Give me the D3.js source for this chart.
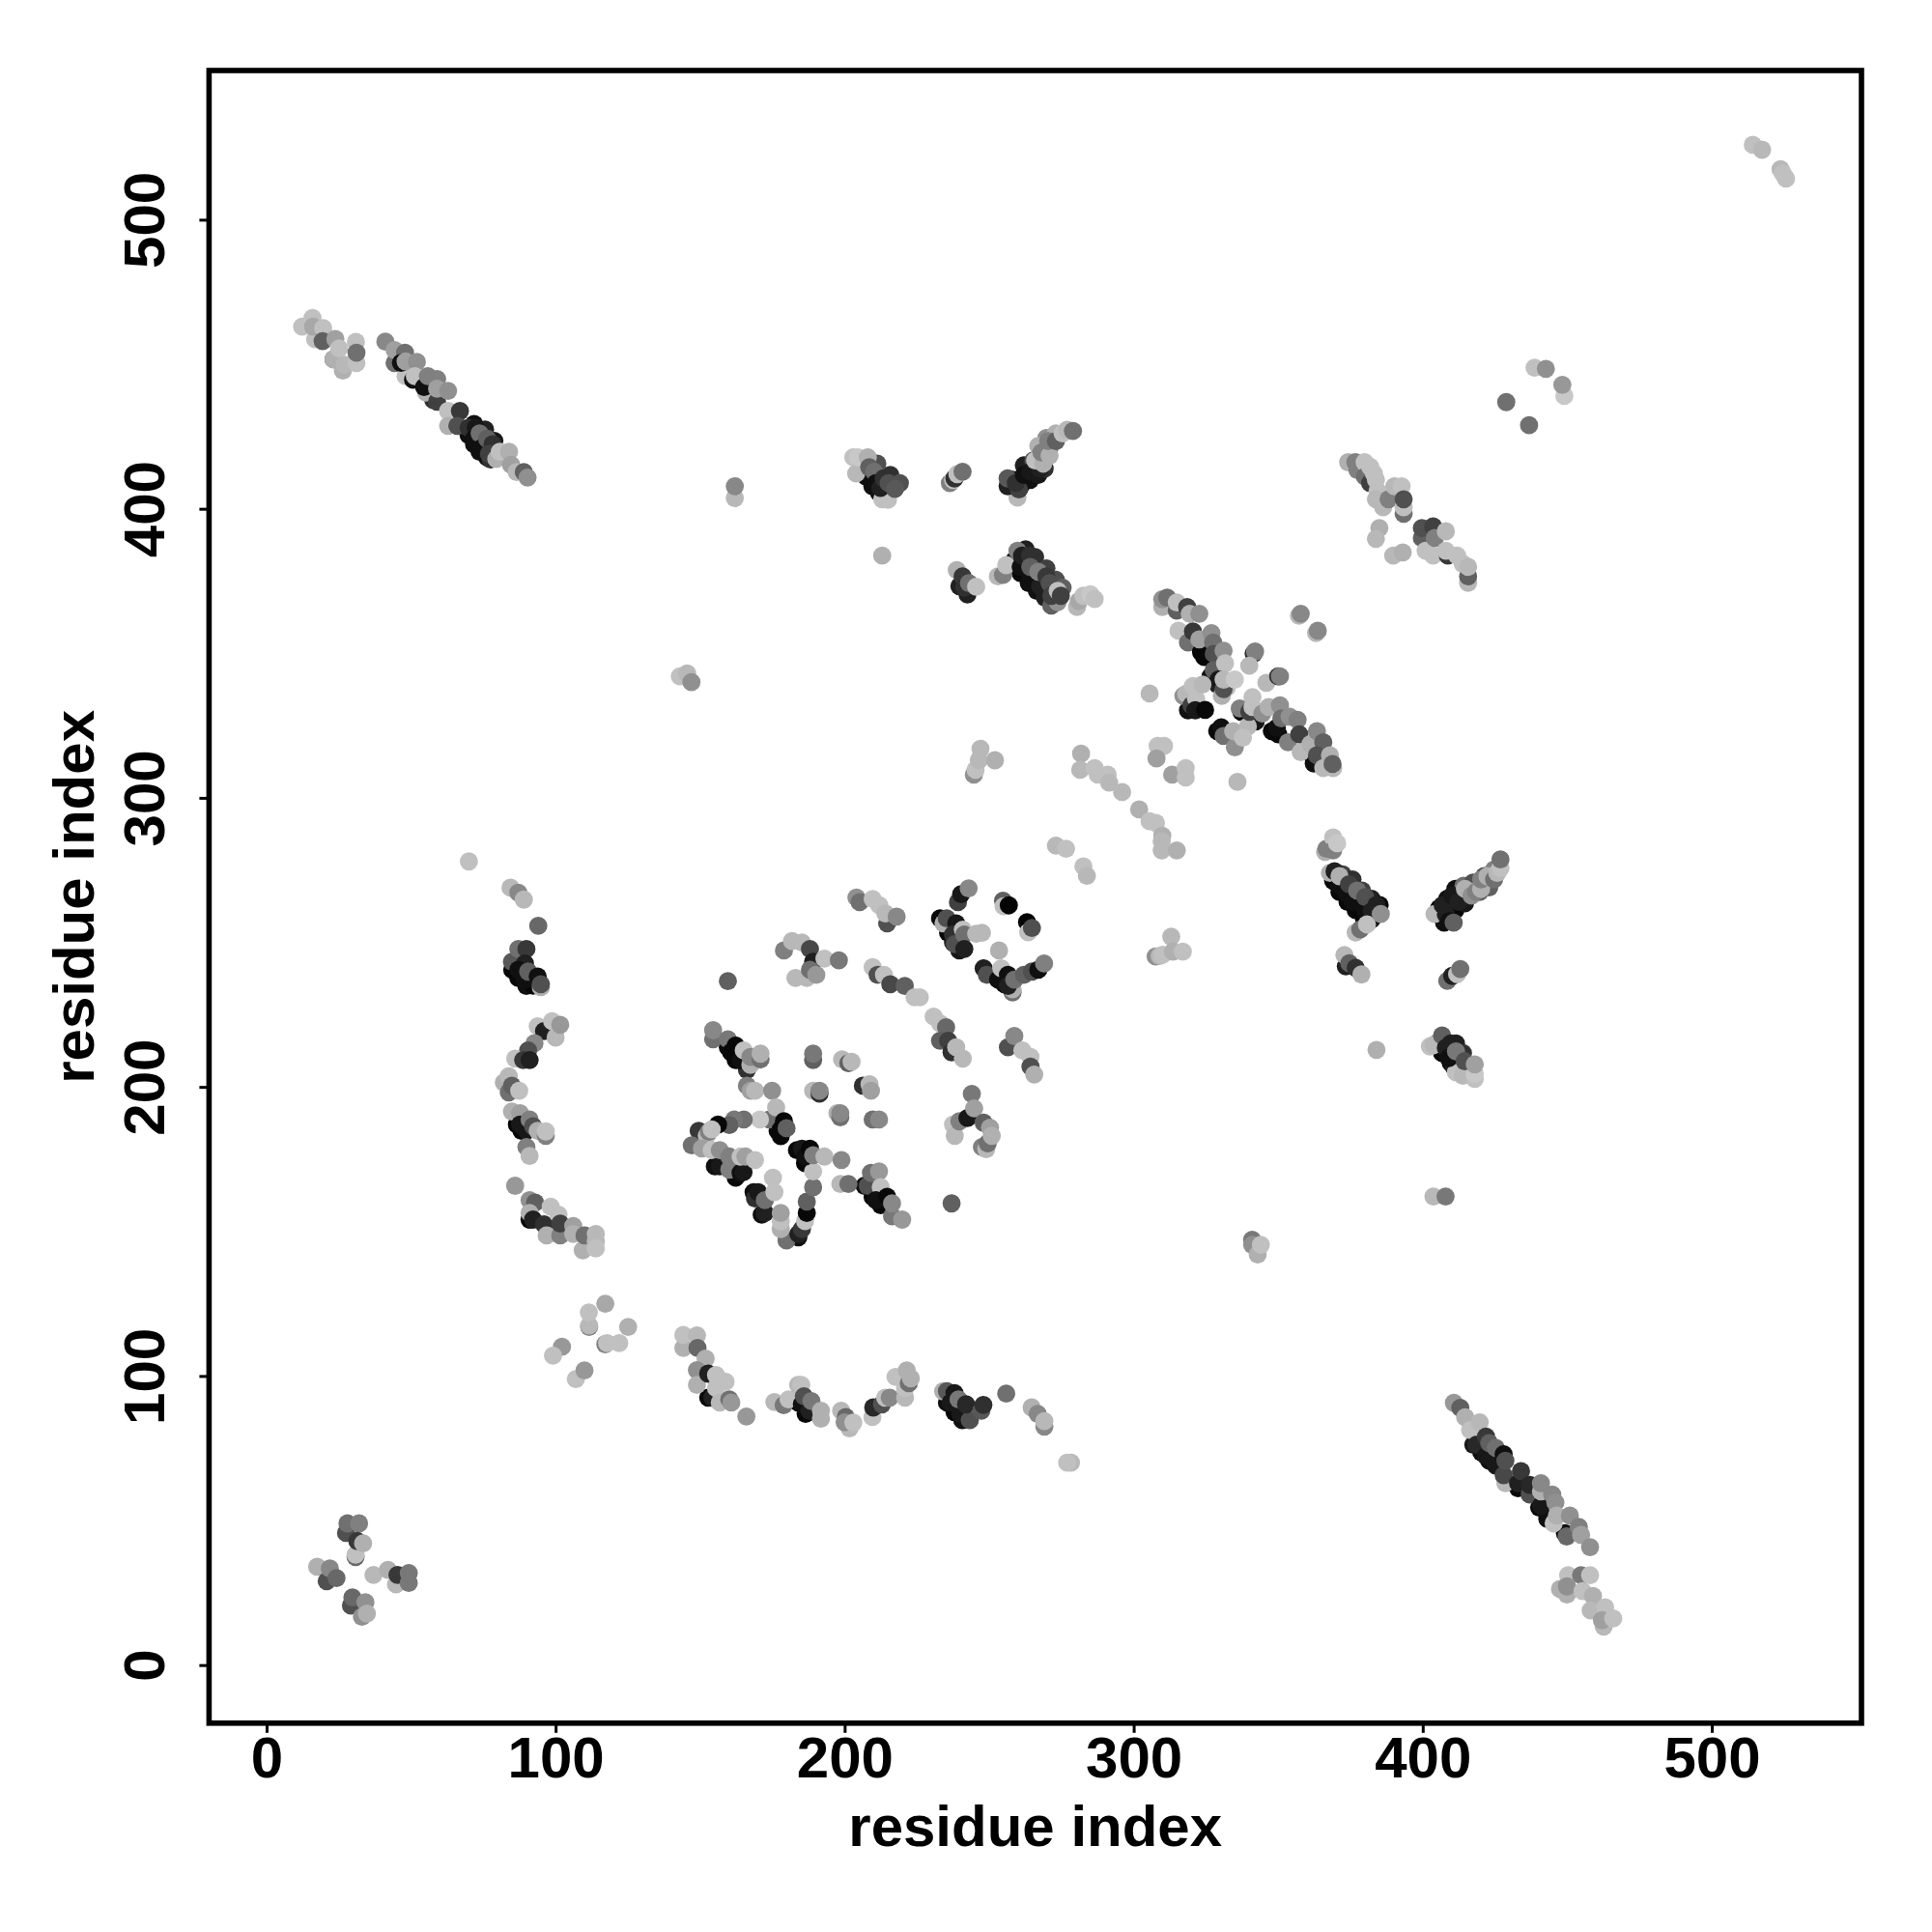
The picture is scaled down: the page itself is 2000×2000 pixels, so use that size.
<!DOCTYPE html>
<html><head><meta charset="utf-8">
<script src="https://cdnjs.cloudflare.com/ajax/libs/d3/7.8.5/d3.min.js"></script>
<style>html,body{margin:0;background:#fff}svg{display:block}text{font-family:"Liberation Sans",Arial,sans-serif;font-weight:700;fill:#000}</style>
</head><body><div id="c"></div>
<script>
const tickValues=[0,100,200,300,400,500];
const xTitle="residue index", yTitle="residue index";
// each contact: [residue x, residue y, grey level]
const denseBands=[[69.9,425.5,0x10],[71.8,422.3,0x10],[73.7,419.7,0x10],[76.3,417.8,0x10],[77.5,417.1,0x30],[71.8,429.3,0x10],[75.6,427.4,0x20],[78.8,423.5,0x18],[54.5,443.4,0x10],[57.7,437.6,0x30],
[258.1,410,0x10],[260.9,407.8,0x20],[264.2,410,0x10],[267,411.7,0x18],[269.2,413.9,0x30],[262,415,0x20],[265.3,416.7,0x50],[269.8,424.5,0x90],[267,421.7,0xb0],[273.1,426.1,0xb0],[270.9,421.1,0x70],[267.6,418.4,0x60],
[258.7,382.1,0x10],[260.9,377.7,0x08],[263.7,374.3,0x10],[266.5,371.6,0x10],[269.3,369.3,0x20],[271.5,366.5,0x60],[262.6,386,0x20],[265.9,383.3,0x30],[269.8,379.4,0x40],[273.1,375.4,0x50],[275.4,372.7,0x60],
[207.4,417.2,0xb0],[207.4,411.1,0x10],[209.6,407.8,0x10],[211.9,405.5,0x10],[213.5,405.5,0x30],[215.8,411.7,0x30],[211.3,415.6,0x50],[219.1,408.9,0x50],[239.7,373.2,0x20],[242.5,370.4,0x20],
[324.4,348.7,0x08],[326,353.2,0x10],[326.6,342,0x10],[329,339.2,0x20],[330.5,335.3,0xb0],[332.2,338.1,0xc0],[318.8,330.3,0x10],[342.2,326.4,0x18],[347.8,323.1,0x08],[350,322,0x08],[361.2,315.3,0x10],[362.3,311.9,0x10],[328.9,323.1,0x08],[337.2,329.8,0x08],
[369,271.3,0x08],[371.2,267.4,0x08],[374,264,0x08],[376.8,261.2,0x08],[379.6,258.5,0x08],[382.3,257.9,0x10],[372.3,273.5,0x40],[375.7,271.8,0x30],[379,267.9,0x40],[382.3,265.1,0x20],[385.1,262.9,0x08],
[405.7,261.8,0x08],[407.4,256.8,0x10],[408.5,265.1,0x10],[411.3,261.2,0x08],[411.3,268.5,0x10],[414.6,263.5,0x18],[414.1,269.6,0x70],[417.4,270.7,0x50],[419.7,267.4,0x60],[423,269,0x60],[424.7,275.2,0x80],[421.3,272.9,0x50],[417.4,267.4,0xb8],
[404.9,215,0x08],[406.7,211.7,0x08],[409.7,208.3,0x10],[411.5,215,0x20],[413.9,211.7,0x30],[410.9,206.7,0x20],
[417.5,76.2,0x18],[420.3,73.5,0x10],[423,70.7,0x10],[425.3,69,0x18],[433,61.2,0x08],[440.3,54.5,0x08],[443.1,50.6,0x10],[449.2,45.6,0x10],
[85,240.5,0x08],[87.1,237.7,0x08],[89.9,234.9,0x10],[92.2,235,0x08],[86.6,187,0x08],[88.2,184.8,0x08],[91,154.1,0x08],
[159.6,213.7,0x08],[162.3,209.3,0x08],[166.2,205.9,0x30],[155.1,172.5,0x10],[162.3,168.6,0x08],[168.5,163.6,0x10],[169,161.4,0x30],[171.3,155.8,0x10],[183.5,178.1,0x08],[186.3,173.6,0x08],[176.8,184.8,0x08],[177.9,183,0x08],[206.9,165.8,0x10],[209.7,161.9,0x08],[212.5,159.1,0x08],[184,148,0x10],
[233,258.3,0x08],[235.8,253.3,0x08],[237.5,250,0x20],[239.7,247.2,0x18],[253.1,237.7,0x08],[255.3,235.5,0x08],[258.1,232.7,0x70],
[152.8,92.5,0x08],[183.9,90.8,0x08],[186.5,86.9,0x08],[235.4,90.8,0x10],[238,87.5,0x08],[240.7,84.7,0x10]];
const cornerTL=[[12.3,463,0xc0],[15.9,466,0xc0],[16.8,458.7,0xc0],[16.1,463,0xa8],[19.6,462.5,0xc0],[19.4,458,0x60],[23.8,458.7,0xa0],[23.2,451.7,0x40],[23.2,451.7,0xb0],[25.1,455.5,0xc0],[26.4,447.8,0xb0],[27,449.8,0xb8],[30.9,457.7,0xc0],[31.1,450.4,0xc0],[31.1,454,0x70]];
const diagTL=[[41.1,457.8,0x88],[44.3,450.4,0x70],[44.3,454.9,0xa0],[47.9,454,0x70],[48.1,445.9,0xc0],[46.5,450.5,0x10],[48.1,451,0xa0],[52,450.8,0x90],[50.7,444.6,0x10],[51.3,445.9,0xc0],[55.2,440.2,0xb0],[54.5,442.1,0x10],[55.8,445.9,0x80],[59,444.9,0x80],[59,437,0x40],[59,441.5,0xa0],[62.8,440.8,0x90],[62.8,433.8,0xc0],[66.9,433.8,0x38],[62.8,428.7,0xb0],[66,428.7,0x50],[69.9,428,0x30],[72.4,428,0x18],[71.8,424.2,0x10],[73.7,426.1,0x70],[74.3,421,0x10],[76.3,424.2,0x60],[78.2,422.3,0x30],[76.9,419,0x40],[79.5,417.2,0xb0],[80.7,419.7,0xc0],[83.9,419.7,0xb0],[84.6,415.2,0xa0],[86.5,412.7,0xb8],[89,412.7,0x60],[90.3,410.8,0x90]];
const isolated=[[162,403.7,0xb8],[162,407.8,0x88],[213,383.8,0xb0],[438.7,448.8,0xc0],[442.6,448.4,0x90],[449,439,0xc8],[448.3,442.9,0x98],[428.9,436.9,0x70],[436.8,428.9,0x70],[514.2,525.9,0xc0],[517.4,524.2,0xb8],[523.8,517.5,0xb8],[525.7,514.2,0xc0],[524.6,516,0xc0],[143,342,0xc0],[145.5,343,0xb8],[147,340,0x90],[70,278,0xc0],[94,255.7,0x68],[159.6,236.6,0x60],[86,165.8,0x98],[237,159.7,0x60],[384,212.8,0xb0],[403.7,162.1,0xb8],[407.9,162.1,0x78],[341,147.1,0x78],[341,145.4,0x90],[342.9,142,0xb0],[344,145.4,0xc0],[278.3,70,0xb8],[277,70,0xc0]];
const upperC=[[203,417.8,0xc0],[204,412.2,0xb8],[204.6,417.8,0xc8],[208,417.8,0xb0],[213,403.3,0xc0],[215,403.1,0xc0],[208.5,414.4,0x60],[210.2,412.8,0x70],[210.8,408.9,0x10],[212.4,407.2,0x20],[213.5,410.5,0x30],[215.2,408.9,0x50],[217.4,406.9,0x58],[236.4,408.9,0x80],[237.5,410,0xc0],[238,410.5,0x30],[239,412,0xc0],[240.8,412.8,0x70]];
const upperE=[[259.8,403.9,0xb8],[256.4,407.8,0x20],[256.4,410.5,0x58],[260.3,406.7,0x40],[259.2,408.9,0x30],[262,411.7,0x10],[264.2,412.8,0x18],[267.6,413.9,0x20],[265.9,416.7,0xc0],[268.7,415.6,0xb0],[268.1,419.5,0x80],[270.9,418.4,0xb0],[270.4,423.4,0x80],[273.1,423.4,0x60],[275.4,426.1,0xc0],[277,427.3,0xb8],[279,426.9,0x70]];
const upperF=[[238.8,378.8,0xb0],[240.8,376.6,0x38],[241.4,372.7,0x30],[243,374.3,0x70],[245.5,373,0xc0],[253,376.6,0xb8],[254.8,377.1,0x80],[255.9,380.5,0xc0]];
const upperG=[[259.8,385.5,0x80],[260.9,379.9,0x10],[261.4,383.8,0x20],[264.2,376.6,0x10],[264.2,383.8,0x30],[264.2,379.9,0x60],[267.6,373.2,0x20],[267,378.2,0x80],[269.8,376.6,0x38],[273.7,367.7,0x90],[270.9,374.3,0x50],[271.5,369.9,0x40],[273.7,371.6,0xc0],[274.8,369.9,0x40],[280.4,366,0xb8],[281,368,0xa8],[282.6,369.9,0xc0],[285,370.4,0xc8],[286.5,368.8,0xc0]];
const crossX=[[309.9,366,0xb0],[309.9,368.7,0x90],[311.6,369.3,0x70],[314.9,364.8,0x60],[314.9,367.6,0xc0],[318.5,366,0x40],[319.4,363.7,0xb0],[322.7,363.7,0x90],[315.5,357.8,0xc0],[318.8,353.7,0x70],[320.5,357.6,0x38],[323.3,350.4,0x08],[322.7,354.8,0xa0],[326.9,357,0x90],[327.5,353.7,0x70],[327.7,349.8,0x50],[327.7,344.2,0x60],[331.1,350.9,0x90],[331.6,346.5,0xc0],[329.4,340.9,0x18],[331.1,337.6,0x50],[331.1,340.9,0xb8],[335,340.9,0xc8],[341.5,349.9,0x30],[342,350.6,0x80],[340,345.7,0xb8],[345.9,339.8,0xb8],[350,342,0x30],[350.6,342,0x80],[357.2,363,0xb8],[357.8,363.7,0x88],[363.1,357,0xb8],[363.7,357.8,0x88],[305.5,336.1,0xb8],[317.2,335.3,0x90],[318.2,336,0xb8],[320,332,0x40],[320.5,338.7,0xc0],[321.6,334.2,0xc0],[323.8,339.2,0xb8],[321.3,330.3,0x18],[324.7,330.4,0x08],[330.3,324.4,0x10],[331.1,321.4,0x70],[335,317.5,0x90],[334.4,323.1,0xb0],[339.5,324.7,0xb8],[337.8,320.8,0xc0],[336.7,330.9,0x80],[340,329.8,0x40],[341.1,334.8,0xc0],[341.1,331.4,0xc0],[344.5,329.2,0x90],[346.7,331.4,0xb0],[349.5,324.2,0x10],[350.6,332,0x90],[351.1,327.5,0x70],[353.9,328.1,0x90],[353.4,319.2,0x80],[356.7,327,0x80],[357.8,315.8,0xb8],[357.3,322,0x40],[361.2,318.6,0xb0],[363.4,323.1,0x88],[365.6,319.2,0x60],[363.4,314.7,0x50],[365.6,310.3,0xb8],[369,310.3,0xb8],[367.9,314.7,0xb0],[368.8,311.7,0x60]];
const lightArc=[[308.3,318,0xc0],[310.5,318,0xc0],[307.9,313.6,0xa0],[313.3,308,0xa0],[318,310.3,0xc0],[318,307,0xc0],[335.9,305.5,0xb8],[281.8,315.3,0xb0],[281.5,309.7,0xb8],[286.5,310.3,0xc0],[287.6,308,0xc0],[291,308,0xc0],[291.5,305.3,0xb8],[296,302,0xb8],[301.9,296,0xb0],[305.5,291.9,0xc0],[307.7,291.3,0xc0],[309.9,286.9,0xb0],[309.7,285,0xb8],[309.7,281.8,0xb8],[314.9,281.8,0xb0],[244.7,308,0x90],[245.3,309.7,0xc0],[246.4,313,0xb8],[247,317,0xb8],[252,313,0xb0],[273.1,283.5,0xb8],[276.6,282.4,0xc0],[282.6,276.3,0xc0],[283.8,273,0xb8],[307.6,245.1,0x90],[309,245.3,0xb8],[310,245.7,0xc0],[313,252,0xb8],[313.6,246.8,0xb0],[317,246.8,0xc0]];
const rightJ=[[366.2,281.3,0xb0],[366.7,282.4,0x80],[369,286.3,0xc0],[369,281.8,0x80],[370.4,284.3,0xc8],[367.9,274,0xb0],[369.5,274.6,0x20],[371.2,269.6,0x10],[371.2,272.9,0xb0],[373.4,267.3,0x10],[374.5,270.1,0x40],[375.7,264,0x10],[377.3,267.9,0x70],[380.1,261.2,0x10],[380.1,265.7,0x50],[382.3,260.7,0x20],[384,262.9,0x20],[376.8,253.4,0xb8],[378.4,254.5,0x70],[380.7,256.2,0xc0],[385.5,259.8,0x90],[373.4,241.7,0x20],[372.9,245.6,0xb8],[374.6,242.8,0x60],[376.8,241.2,0x30],[378.8,238.9,0xb0],[408.5,236.7,0x70],[410.2,238.4,0x20],[411.9,239,0xc0],[413,240.8,0x70]];
const rightM=[[404.1,259.8,0xb8],[406.9,262.9,0x20],[408,259.6,0x20],[409.1,257.3,0x10],[410.2,266.2,0x18],[412.4,264,0x20],[410.7,256.8,0x60],[414.6,268.5,0xb0],[416.9,266.2,0x90],[418.5,267.5,0x80],[420.2,268.5,0xb0],[420.2,271.8,0x80],[422.4,272.9,0xb0],[424.7,271.8,0x70],[425.8,274,0xb8],[426.9,275.7,0xc0],[426.9,278.7,0x70],[402.5,214,0xc0],[403.7,214.5,0xb8],[411.5,205,0xc0],[413.9,203.9,0xb8],[418,202.8,0xc0],[418,204.5,0xc8],[406.7,217.8,0x60],[409.7,215,0x20],[408,213.5,0x20],[409,210,0x10],[411.5,212.3,0x78],[414.5,208.9,0x50],[418,207.8,0xa0]];
const topN=[[374.2,416.1,0xb0],[376.7,416.1,0x80],[377.4,413.4,0x80],[379.9,416.1,0xc0],[380,411.1,0x70],[381.8,414.5,0xc0],[381.8,408.9,0x40],[383.1,412.2,0xc0],[383.8,410,0xc0],[384.4,406.1,0xc0],[383.8,403.3,0xb8],[386.3,400.5,0xb8],[388.2,403.3,0x80],[390.2,407.8,0xb8],[392.7,407.8,0xc0],[393.4,398.3,0x70],[393.4,400.5,0xc0],[393.4,403.3,0x50],[385,393.3,0xb0],[383.8,389.6,0xb8],[389.8,383.8,0xb8],[393.1,384.9,0xb0],[399.7,389.9,0x60],[399.7,393.3,0x50],[401,385.5,0xc0],[403.6,383.8,0xc0],[403.6,393.9,0x40],[404.2,389.9,0x80],[408,392.2,0xb8],[408.7,383.8,0x38],[408,385.5,0xc0],[411.9,383.8,0xc0],[415.7,374.4,0xb8],[415.7,376.6,0x60],[413.8,381,0xc0],[415.7,379.9,0xb8]];
const leftArc=[[84.4,268.9,0xb8],[87.1,267.2,0x88],[89,264.8,0xb8],[84.9,243.3,0x58],[87.1,247.7,0x70],[89.9,247.7,0x38],[89.4,242.7,0x20],[87.1,240.5,0x10],[89.4,237.1,0x10],[90.5,239.9,0x60],[93.8,238.2,0x10],[94.9,234.5,0xb0],[94.9,235.5,0x50],[93.8,221,0xc0],[96,219.3,0x20],[98.8,222.7,0xc0],[100,217.1,0xb8],[101.6,221.5,0x98],[92.7,215.1,0x88],[90.5,212.6,0x50],[86,209.8,0xc0],[88.8,209.3,0x38],[91,209.3,0x20],[82.1,201.5,0xb0],[83.8,203.7,0xb8],[83.8,198.1,0x70],[84.9,200.4,0x60],[87.4,198.7,0xc0],[84.9,191.5,0xb0],[87.7,190.9,0xa0],[87.7,187,0x18],[90,184.8,0x18],[91,188.7,0x80],[92.2,186.4,0x50],[93.8,184.8,0xb0],[96.6,183.1,0x80],[96.6,184.6,0xc0],[89.9,179.2,0x80],[91,176.1,0xb8],[91,160.8,0x90],[92.9,160,0x60],[91,156.4,0xb0],[92.2,154.1,0x20],[96,152.5,0x30],[96.9,148.6,0xb0],[98.3,158.6,0xc0],[101,155.8,0xc0],[101.6,148.6,0x80],[101.6,152.7,0x40],[106.1,151.9,0xa0],[106.1,149.1,0xb0],[109.4,143.5,0xb0],[110,148.6,0x70],[113.9,146.5,0xb8],[113.9,149.1,0xb8],[113.9,144.1,0xc0]];
const starA=[[154.5,216.5,0x70],[154.5,219.6,0x88],[159.6,216.5,0x78],[160.7,212,0x08],[162.3,214.3,0x08],[164,209.3,0x10],[165.1,212.6,0xc0],[167.4,207.6,0xb0],[167.4,210.4,0x88],[170.9,209.5,0x70],[170.9,211.5,0xb0],[166.2,200.4,0x80],[167.5,198.7,0xa0],[169,198.7,0xb8],[174.9,198.7,0x90],[174,188.7,0x70],[176.3,192.9,0xb8],[177.9,185.3,0x08],[179,188.1,0x08],[179.9,185.7,0x60],[170.7,188.7,0xc8],[165.1,188.7,0x70],[161.8,188.7,0x78],[160.1,186.8,0x60],[156.2,187,0x08],[149.5,184.8,0x38],[152.3,183.1,0xb8],[153,184.5,0x80],[154,185.3,0xc0],[147.1,179.8,0x70],[150.6,178.7,0xa0],[154,178.1,0xc0],[156.8,172.5,0x18],[156.8,178.1,0x90],[160.1,171.4,0x80],[160.1,175.9,0x80],[164,170.3,0x10],[165,170.5,0x18],[164,175.9,0xc0],[165.7,175.9,0xa0],[169,174.7,0xc0]];
const starB=[[170.1,163.6,0x18],[172.4,156.4,0x20],[172.4,160.8,0x70],[175.2,168.6,0xc0],[175.7,163.6,0xc0],[179.9,146.9,0x70],[177.9,150.8,0xb0],[177.9,153.5,0xc0],[177.9,156.4,0xa0],[184,149.1,0x20],[185.2,150.8,0x38],[186.3,153.6,0xc0],[186.9,156.4,0x08],[186.9,160.3,0x60],[189.1,165.3,0x70],[189.1,170.8,0xc0],[185.2,178.6,0x18],[186.3,175.9,0x10],[188,178.6,0x08],[189.1,176.4,0x80],[193,175.9,0xb8],[198.9,174.7,0x88],[198.5,166.4,0xb8],[201.3,166.4,0x70],[208,165.8,0x50],[209.1,170.3,0x70],[211.9,170.8,0x98],[212.5,165.3,0xc0],[210.8,160.8,0x10],[214.7,162,0x08],[216.4,155.2,0x78],[216.4,159.7,0x88],[219.9,154.1,0x98]];
const starSpots=[[189.1,209.3,0x60],[189.1,211.5,0x78],[199.1,209.5,0xb8],[201.3,208.2,0x60],[202.4,208.7,0xb8],[189.1,198.7,0xb8],[191.3,197.7,0x30],[191.3,198.7,0x88],[197.5,190.9,0xb0],[198.5,189.5,0x70],[198.5,190.9,0x88],[206.3,200.4,0x30],[208.6,200.9,0xb8],[209.1,198.7,0xa0],[209.7,188.7,0x70],[211.9,188.7,0x88]];
const midTop=[[179,247.2,0x80],[181.8,250.5,0xb8],[185.2,250,0xb8],[188,247.7,0x48],[183,237.7,0xb8],[186.9,237.7,0xb8],[189.1,243.3,0x20],[188,240.5,0x70],[190.2,238.8,0x98],[193,244.4,0xc0],[198,243.8,0x78],[204.1,265.5,0x90],[205.2,263.9,0x70],[209.7,265,0xc0],[212,262.8,0xc0],[214.7,256.6,0x50],[214.1,260,0xb8],[218,258.9,0x88],[209.7,241.4,0xc0],[211.4,238.8,0x50],[213.6,238.8,0xc0],[215.8,235.5,0x48],[220.8,234.9,0x60],[224.2,231,0xc0],[226,231,0xc0],[230.8,224.3,0xc0],[233,222,0xc0],[235.1,220.6,0x68],[233,216,0x60],[235.8,216,0x40],[237,212,0x30],[238.6,213.7,0xb8],[240.9,209.8,0xb8]];
const ringTop=[[234.2,256.6,0xb0],[235.3,258.3,0x50],[238.6,256.6,0x18],[237.5,252.7,0x30],[238.1,249.4,0x50],[240.9,254.4,0xc0],[241.4,252.7,0x70],[241.4,247.7,0x20],[239.2,263.9,0x40],[240.3,266.7,0x18],[242.9,268.7,0x88],[245.5,253,0xb8],[247.5,253.3,0xb8],[253.4,247.2,0xb0],[254.8,264.4,0x60],[255,262.5,0xc0],[256.8,262.8,0x05],[263.1,257,0x05],[263.5,253.5,0xc0],[264.8,255,0x50],[248.1,241,0x20],[249.2,238.8,0x50],[253.1,237.1,0x10],[254.2,241,0xc0],[256.5,238.8,0x10],[258.1,233.8,0xb0],[256.5,234.9,0x20],[258.7,237.1,0x70],[262,238.8,0x60],[264.8,239.9,0x50],[267,240.5,0x10],[269,242.7,0x80]];
const ringLow=[[256.5,213.7,0x50],[258.7,217.6,0x88],[261.5,212.6,0xc0],[264.3,210.4,0xc0],[264.3,207,0x50],[265.6,204.3,0xb0],[244,197.6,0x78],[237.5,187,0xc0],[238.1,183.1,0xb8],[239.7,188.1,0x80],[242.5,189.2,0x18],[244.8,192.6,0xa0],[247.5,179.2,0x80],[249,178.5,0xb8],[249.5,180.5,0x70],[248.1,187.6,0x60],[250.3,185.9,0xa0],[250.9,183.1,0xb0]];
const lowerLight=[[117.2,125,0xa8],[111.6,117,0x80],[111.6,117.5,0xb8],[111.5,122,0xc0],[125.1,117,0xb0],[102.2,110.1,0x98],[99.1,107,0xc0],[117.2,111,0x80],[117.8,111.4,0xc0],[122,111.4,0xc0],[107,98.9,0xc0],[110,101.9,0x98]];
const lowerWave=[[144.2,109.7,0xb0],[144.2,114.2,0xc0],[148.9,114,0xb8],[149.1,109.7,0x68],[151.9,106,0xb0],[148.9,102,0x90],[148.9,96.9,0xb0],[152.8,100.8,0x20],[154.2,92.5,0x20],[155.5,95.8,0xc0],[156.8,90.8,0xb8],[155.5,100.3,0xc0],[158.8,98,0xc0],[160.1,91.9,0x70],[160.8,90.8,0x98],[166,86,0x98],[175.7,91,0xb8],[178.9,89.9,0x78],[180.6,91.9,0xc0],[183.9,96.9,0xb8],[185,96.9,0xc0],[185.2,90.2,0x10],[185.9,93,0x50],[187.8,88,0x20],[188.5,91.3,0x78],[191.8,85.2,0xb0],[191.8,88,0xb0],[198.8,88,0xb8],[201.7,81.9,0xb8],[200.4,85.8,0x68],[200,84,0x90],[203,83.9,0xc0],[209.6,85.8,0xc0],[209.9,89.1,0x28],[212.9,90.2,0x50],[214,92.5,0xc0],[215.6,92.5,0x88],[220.9,92.5,0xb8],[220.9,95.8,0xc0],[217.6,99.7,0xc0],[222.2,97.5,0x70],[221.5,101.9,0xb0],[222.9,99.2,0xb0],[234.1,94.7,0xb0],[235.4,94.7,0x58],[236.7,90.8,0x18],[238,94.1,0x18],[240,86.9,0x18],[239.4,91.9,0x78],[243.3,84.7,0x50],[242,90.2,0x28],[247.3,88,0x58],[248,90,0x30],[255.9,93.9,0x70],[264.7,89.1,0xb0],[266.8,86.9,0x88],[269.1,82.5,0x88],[269.1,84.4,0xb8]];
const diagBR=[[410.8,90.7,0x98],[413,89,0x60],[414.7,85.7,0xb0],[416.4,81.3,0xc0],[419.7,84,0xb8],[418.6,76.2,0x28],[421.9,72.3,0x18],[421.9,79,0x38],[423,76.8,0x60],[425.3,75.1,0x70],[428.6,62.9,0xb8],[428,65.7,0x48],[428,72.9,0x10],[428.6,70.7,0x50],[433,62.9,0x20],[434,67.1,0x38],[437,59,0x50],[437,62.3,0x28],[440.9,55.1,0x18],[440.9,60.1,0xb0],[440.9,62.9,0x88],[445.3,49,0xc0],[444.8,59,0x88],[445.9,56.2,0x90],[446.4,51.7,0xb0],[449.8,44.5,0x68],[450.9,51.7,0x90],[454,47.8,0x80],[454.8,45,0xa0],[457.9,40.8,0x90]];
const tailBR=[[450.3,31.1,0xc0],[454.8,31.1,0x78],[457.9,31.1,0xc0],[447.5,26.3,0xb0],[449.9,24.4,0xb0],[449.9,27.2,0x90],[455.3,25.6,0xc0],[458.9,23.9,0xb0],[458.1,18.9,0xb8],[463.1,20,0xc0],[462.6,13.3,0xb8],[462,15.5,0xa0],[465.9,16.1,0xc0]];
const cornerBL=[[17.5,34,0xb0],[20.8,29,0x50],[21.9,33.4,0x88],[24.2,30.1,0x68],[27.5,45.7,0x50],[28,49,0x70],[32,49,0x80],[30.8,37.4,0x68],[30.8,38.2,0xc0],[31.4,42.9,0x38],[33.4,42.1,0xb0],[37,31.2,0xb8],[42,32.9,0xb0],[44.8,27.9,0xb8],[45.3,31.2,0x38],[49.2,28.4,0x78],[49.2,31.8,0x78],[29.2,20.6,0x50],[29.7,23.4,0x68],[33,16.7,0x90],[34.2,21.7,0x90],[34.7,17.8,0xb0]];
const clusters=[denseBands,cornerTL,diagTL,isolated,upperC,upperE,upperF,upperG,crossX,lightArc,rightJ,rightM,topN,leftArc,starA,starB,starSpots,midTop,ringTop,ringLow,lowerLight,lowerWave,diagBR,tailBR,cornerBL];

const W=2000,H=2000;
const left=216.4,right=1927,top_=73,bottom=1783.8;
const x=d3.scaleLinear().domain([-19.9,551.8]).range([left,right]);
const y=d3.scaleLinear().domain([-20.1,551.6]).range([bottom,top_]);
const svg=d3.select("#c").append("svg").attr("width",W).attr("height",H);
svg.append("rect").attr("width",W).attr("height",H).attr("fill","#fff");
const pts=clusters.flat();
svg.append("g").selectAll("circle").data(pts).join("circle")
  .attr("cx",d=>x(d[0])).attr("cy",d=>y(d[1])).attr("r",9.4)
  .attr("fill",d=>d3.rgb(d[2],d[2],d[2]).formatHex());
svg.append("rect").attr("x",left).attr("y",top_).attr("width",right-left).attr("height",bottom-top_)
  .attr("fill","none").attr("stroke","#000").attr("stroke-width",5.6);
const fs=60;
const gx=svg.append("g").attr("transform",`translate(0,${bottom})`)
  .call(d3.axisBottom(x).tickValues(tickValues).tickSize(10).tickSizeOuter(0));
const gy=svg.append("g").attr("transform",`translate(${left},0)`)
  .call(d3.axisLeft(y).tickValues(tickValues).tickSize(10).tickSizeOuter(0));
[gx,gy].forEach(g=>{g.select(".domain").remove();g.selectAll("line").attr("stroke","#000").attr("stroke-width",3);});
gx.selectAll("text").attr("font-size",fs).attr("dy",null).attr("y",0)
  .attr("transform","translate(0,56)").style("fill","#000");
gy.selectAll("text").attr("font-size",fs).attr("x",0).attr("dy",null).attr("y",0)
  .attr("text-anchor","middle").attr("transform","translate(-46,0) rotate(-90)");
svg.append("text").attr("x",(left+right)/2).attr("y",1911).attr("text-anchor","middle").attr("font-size",fs).text(xTitle);
svg.append("text").attr("transform",`translate(97,${(top_+bottom)/2}) rotate(-90)`).attr("text-anchor","middle").attr("font-size",fs).text(yTitle);
</script></body></html>
